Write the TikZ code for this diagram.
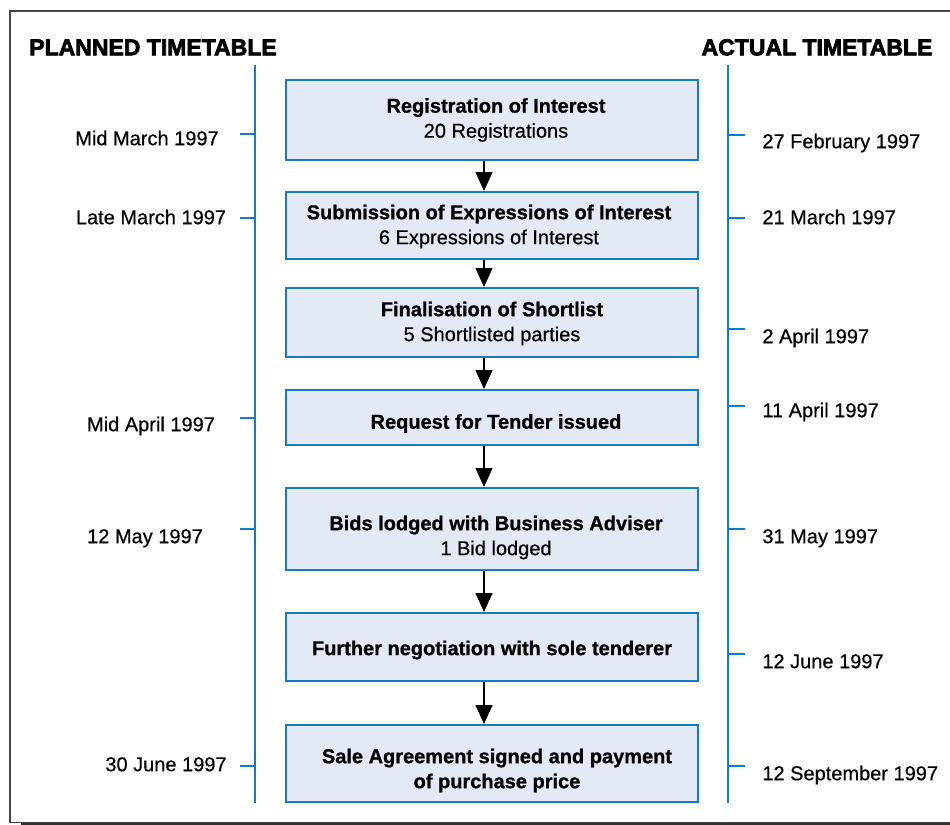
\documentclass[tikz,border=0pt]{standalone}
\usepackage{fontspec}
\setmainfont{Liberation Sans}[UprightFeatures={FakeBold=0.5},BoldFeatures={FakeBold=0.9}]
\newfontfamily\heavyfont[FakeBold=3]{Liberation Sans Bold}
\usetikzlibrary{arrows.meta}
\definecolor{boxfill}{RGB}{227,234,246}
\definecolor{boxline}{RGB}{18,124,200}
\definecolor{framegray}{RGB}{70,70,70}
\begin{document}
\begin{tikzpicture}[x=0.5pt,y=-0.5pt,
  stage/.style={draw=boxline, fill=boxfill, line width=1pt, minimum width=206pt, inner sep=0pt},
  stagetext/.style={inner sep=0pt, align=center, font=\bfseries\fontsize{10}{12.5}\selectfont},
  datelabel/.style={font=\fontsize{10}{12}\selectfont, inner sep=0pt, text height=7.2pt, text depth=0pt},
  head/.style={font=\heavyfont\fontsize{11.5}{14}\selectfont, inner sep=0pt, text height=8.3pt, text depth=0pt},
  axisline/.style={draw=boxline, line width=1pt},
  arr/.style={-{Triangle[width=8.5pt,length=9.5pt]}, line width=0.65pt}]
\useasboundingbox (0,0) rectangle (950,825);
% frame
\draw[framegray, line width=0.6pt] (950,11) -- (10,11) -- (10,822.5) -- (950,822.5);
\fill[framegray!70!black] (21,822.5) rectangle (950,825);
% headers
\node[head] (ph) at (153,47) {PLANNED TIMETABLE};
\node[head] (ah) at (817,47) {ACTUAL TIMETABLE};
% axis lines
\coordinate (lt) at (255,65); \coordinate (lb) at (255,803);
\coordinate (rt) at (728,65); \coordinate (rb) at (728,803);
\draw[axisline] (lt) -- (lb);
\draw[axisline] (rt) -- (rb);
% left ticks
\foreach \n/\y in {1/134,2/218,3/418,4/529,5/766}{
  \coordinate (lta\n) at (240,\y); \coordinate (ltb\n) at (255,\y);
  \draw[axisline] (lta\n) -- (ltb\n);}
% right ticks
\foreach \n/\y in {1/135,2/218,3/329,4/406,5/529,6/654,7/766}{
  \coordinate (rta\n) at (728,\y); \coordinate (rtb\n) at (745,\y);
  \draw[axisline] (rta\n) -- (rtb\n);}
% planned dates
\node[datelabel] (p1) at (147,138) {Mid March 1997};
\node[datelabel] (p2) at (151,217) {Late March 1997};
\node[datelabel] (p3) at (151,424) {Mid April 1997};
\node[datelabel] (p4) at (145,536) {12 May 1997};
\node[datelabel] (p5) at (166,764) {30 June 1997};
% actual dates
\node[datelabel, anchor=west] (a1) at (762,141) {27 February 1997};
\node[datelabel, anchor=west] (a2) at (762,217) {21 March 1997};
\node[datelabel, anchor=west] (a3) at (762,336) {2 April 1997};
\node[datelabel, anchor=west] (a4) at (762,410) {11 April 1997};
\node[datelabel, anchor=west] (a5) at (762,536) {31 May 1997};
\node[datelabel, anchor=west] (a6) at (762,661) {12 June 1997};
\node[datelabel, anchor=west] (a7) at (762,773) {12 September 1997};
% stages
\node[stage, minimum height=40pt] (b1) at (492,120) {};
\node[stage, minimum height=33.5pt] (b2) at (492,225.5) {};
\node[stage, minimum height=34.5pt] (b3) at (492,322.5) {};
\node[stage, minimum height=27.5pt] (b4) at (492,417.5) {};
\node[stage, minimum height=41pt] (b5) at (492,529) {};
\node[stage, minimum height=34pt] (b6) at (492,647) {};
\node[stage, minimum height=38.5pt] (b7) at (492,763.5) {};
\node[stagetext] (t1) at (496,120) {Registration of Interest\\{\mdseries 20 Registrations}};
\node[stagetext] (t2) at (489,226.5) {Submission of Expressions of Interest\\{\mdseries 6 Expressions of Interest}};
\node[stagetext] (t3) at (492,323.5) {Finalisation of Shortlist\\{\mdseries 5 Shortlisted parties}};
\node[stagetext] (t4) at (496,423.5) {Request for Tender issued};
\node[stagetext] (t5) at (496,537.5) {Bids lodged with Business Adviser\\{\mdseries 1 Bid lodged}};
\node[stagetext] (t6) at (492,650) {Further negotiation with sole tenderer};
\node[stagetext] (t7) at (497,770.5) {Sale Agreement signed and payment\\of purchase price};
% arrows
\foreach \a/\b in {b1/b2,b2/b3,b3/b4,b4/b5,b5/b6,b6/b7}{
  \draw[arr] ([xshift=-4pt]\a.south) -- ([xshift=-4pt]\b.north);}
\end{tikzpicture}
\end{document}
